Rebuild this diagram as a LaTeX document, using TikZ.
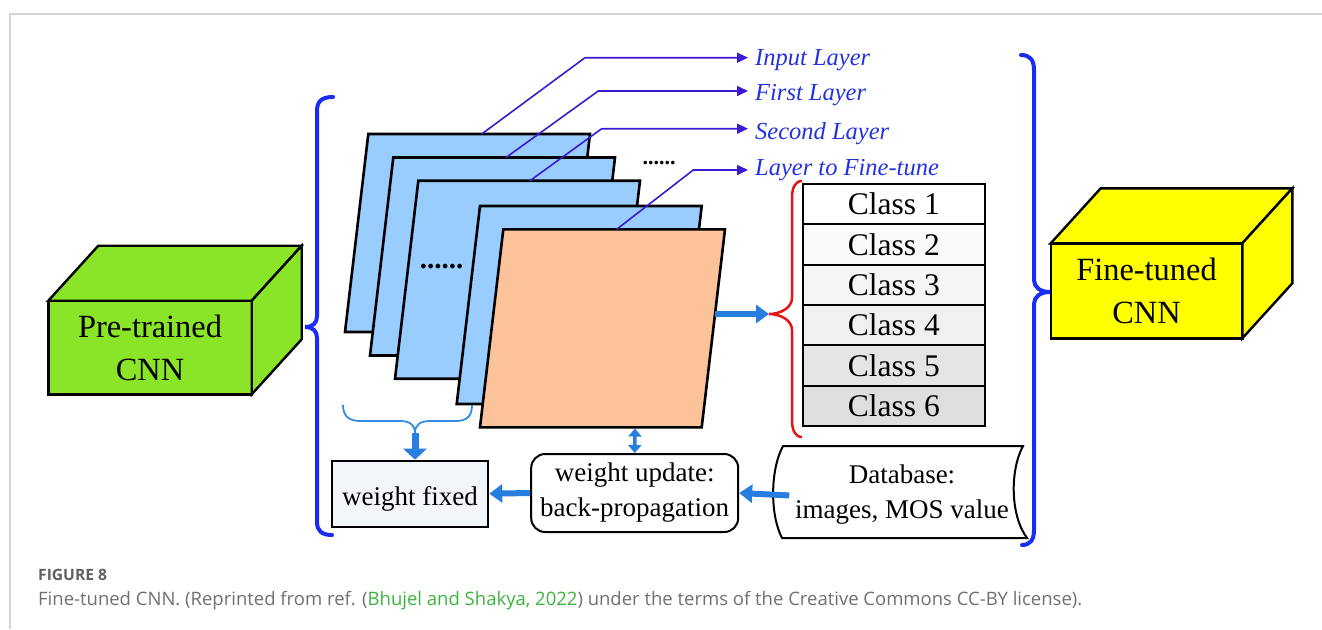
\documentclass[tikz,border=0pt]{standalone}
\usepackage{fontspec}
\setmainfont{Liberation Serif}
\newfontfamily\capfont{Open Sans}
\usetikzlibrary{arrows.meta}
\definecolor{limeg}{RGB}{138,228,40}
\definecolor{cubey}{RGB}{255,255,0}
\definecolor{sheetblue}{RGB}{153,204,255}
\definecolor{sheetorange}{RGB}{252,194,153}
\definecolor{bracebl}{RGB}{25,45,245}
\definecolor{lblline}{RGB}{60,25,210}
\definecolor{lbltext}{RGB}{35,50,225}
\definecolor{arrowbl}{RGB}{40,125,225}
\definecolor{smallbrace}{RGB}{50,140,230}
\definecolor{framegray}{RGB}{212,212,212}
\definecolor{capgray}{RGB}{112,112,112}
\definecolor{capdark}{RGB}{95,95,95}
\definecolor{capgreen}{RGB}{60,180,60}
\definecolor{fixedfill}{RGB}{242,245,250}
\definecolor{bracered}{RGB}{230,20,20}
\begin{document}
\begin{tikzpicture}[x=1pt,y=-1pt,line join=miter,
  sheet/.style={draw=black,line width=2.6pt},
  cubeface/.style={draw=black,line width=2.4pt},
  cubefront/.style={cubeface,outer sep=0pt,inner sep=0pt,align=center,font=\fontsize{32.4}{43}\selectfont},
  lblarrow/.style={draw=lblline,line width=1.6pt,-{Triangle[length=11pt,width=10pt]}},
  lbltxt/.style={anchor=base west,inner xsep=7pt,inner ysep=0pt,text=lbltext,font=\fontsize{24.5}{28}\selectfont\itshape},
  classrow/.style={draw=black,line width=2pt,minimum width=182.3pt,minimum height=40.3pt,inner sep=0pt,font=\fontsize{31.5}{36}\selectfont},
  thickarrow/.style={draw=arrowbl,line width=6pt,-{Triangle[length=13pt,width=18pt]}},
  bigbrace/.style={draw=bracebl,line width=4pt,line cap=round},
  boxtxt/.style={draw=black,line width=2pt,align=center,font=\fontsize{27}{35}\selectfont},
  dotstxt/.style={anchor=base,inner sep=0pt}
]
\useasboundingbox (0,0) rectangle (1322,629);
% frame
\draw[framegray,line width=2pt] (10,629) -- (10,14) -- (1322,14);

% pre-trained cube
\node[cubefront,fill=limeg,minimum width=203.4pt,minimum height=93.6pt] (pre) at (150,347.5) {Pre-trained\\CNN};
\draw[cubeface,fill=limeg] (pre.north west) -- ++(50,-55) -- ++(203.4,0) -- (pre.north east) -- cycle;
\draw[cubeface,fill=limeg] (pre.north east) -- ++(50,-55) -- ++(0,93.6) -- (pre.south east) -- cycle;

% fine-tuned cube
\node[cubefront,fill=cubey,minimum width=191.6pt,minimum height=95pt] (fin) at (1146.5,290.8) {Fine-tuned\\CNN};
\draw[cubeface,fill=cubey] (fin.north west) -- ++(50,-55) -- ++(191.6,0) -- (fin.north east) -- cycle;
\draw[cubeface,fill=cubey] (fin.north east) -- ++(50,-55) -- ++(0,95) -- (fin.south east) -- cycle;

% big braces
\draw[bigbrace] (333,97) .. controls (322,97) and (317,101) .. (317,111) -- (317,316) .. controls (317,323) and (313,327) .. (305,327) .. controls (313,327) and (317,331) .. (317,338) -- (317,522) .. controls (317,531) and (322,535) .. (332,535);
\draw[bigbrace] (1021,55) .. controls (1030,55) and (1034,60) .. (1034,70) -- (1034,280) .. controls (1034,287) and (1040,292) .. (1050,292) .. controls (1040,292) and (1034,297) .. (1034,304) -- (1034,530) .. controls (1034,540) and (1030,545) .. (1022,545);

% sheets
\draw[sheet,fill=sheetblue] (368.3,134) -- ++(221.7,0) -- ++(-23.3,198) -- ++(-221.7,0) -- cycle;
\draw[sheet,fill=sheetblue] (393.3,157.5) -- ++(221.7,0) -- ++(-23.3,198) -- ++(-221.7,0) -- cycle;
\draw[sheet,fill=sheetblue] (418.3,180.7) -- ++(221.7,0) -- ++(-23.3,198) -- ++(-221.7,0) -- cycle;
\draw[sheet,fill=sheetblue] (480,206) -- ++(221.7,0) -- ++(-23.3,198) -- ++(-221.7,0) -- cycle;
\draw[sheet,fill=sheetorange] (503.3,229.3) -- ++(221.7,0) -- ++(-23.3,198) -- ++(-221.7,0) -- cycle;
\node[dotstxt,font=\fontsize{29}{30}\selectfont\bfseries] (dotsA) at (441.5,268) {......};
\node[dotstxt,font=\fontsize{22}{24}\selectfont\bfseries] (dotsB) at (659,164) {......};

% label connectors
\coordinate (t1) at (481.7,134);
\coordinate (t2) at (506,157.5);
\coordinate (t3) at (530,180.7);
\coordinate (t4) at (616.7,229.3);
\coordinate (k1) at (585,57.7);
\coordinate (k2) at (598.3,91);
\coordinate (k3) at (601.7,128.7);
\coordinate (k4) at (693.3,170);
\node[lbltxt] (lin) at (748,65) {Input Layer};
\node[lbltxt] (lfirst) at (748,100.5) {First Layer};
\node[lbltxt] (lsec) at (748,139.5) {Second Layer};
\node[lbltxt] (ltune) at (748,175.5) {Layer to Fine-tune};
\draw[lblarrow] (t1) -- (k1) -- (k1 -| lin.west);
\draw[lblarrow] (t2) -- (k2) -- (k2 -| lfirst.west);
\draw[lblarrow] (t3) -- (k3) -- (k3 -| lsec.west);
\draw[lblarrow] (t4) -- (k4) -- (k4 -| ltune.west);

% classes
\node[classrow,fill=white] (c1) at (893.8,204.2) {Class 1};
\node[classrow,fill=white!98!black] (c2) at (893.8,244.5) {Class 2};
\node[classrow,fill=white!96!black] (c3) at (893.8,284.8) {Class 3};
\node[classrow,fill=white!94!black] (c4) at (893.8,325.2) {Class 4};
\node[classrow,fill=white!90!black] (c5) at (893.8,365.5) {Class 5};
\node[classrow,fill=white!87!black] (c6) at (893.8,405.8) {Class 6};
\draw[bracered,line width=2.5pt] (802,181) .. controls (795,181) and (792,188) .. (792,198) -- (792,298) .. controls (792,308) and (780,314) .. (769,314) .. controls (780,314) and (792,320) .. (792,330) -- (792,420) .. controls (792,430) and (795,437) .. (802,437);
\coordinate (oright) at (715,314);
\coordinate (rcusp) at (769,314);
\draw[thickarrow] (oright) -- (rcusp);

% bottom boxes
\node[boxtxt,rounded corners=14pt,fill=white,minimum width=207pt,minimum height=78pt] (wu) at (634.7,493) {weight update:\\back-propagation};
\node[boxtxt,fill=fixedfill,minimum width=156.6pt,minimum height=66pt,text height=28pt,text depth=4pt] (wf) at (410,493.7) {weight fixed};
\node[align=center,inner sep=0pt,minimum width=243pt,minimum height=92pt,font=\fontsize{27}{35}\selectfont] (db) at (902,495) {Database:\\images, MOS value};
\draw[black,line width=2pt] (783,446) -- (1023,446) .. controls (1010,470) and (1010,515) .. (1027,538) -- (782,538) .. controls (770,515) and (770,470) .. (783,446) -- cycle;

\coordinate (obot) at (635,428.5);
\draw[draw=arrowbl,line width=3.5pt,{Triangle[length=8pt,width=13pt]}-{Triangle[length=8pt,width=13pt]}] (obot) -- (wu.north);
\draw[thickarrow] (wu.west) -- (wf.east);
\draw[thickarrow,shorten <=-9pt] (db.west) -- (wu.east);

% small brace
\draw[smallbrace,line width=1.8pt] (343,405) .. controls (343,416) and (349,421) .. (360,421) -- (400,421) .. controls (410,421) and (415,425) .. (415,433) .. controls (415,425) and (420,421) .. (430,421) -- (456,421) .. controls (467,421) and (472,416) .. (472,405);
\coordinate (sbc) at (415,433);
\draw[draw=arrowbl,line width=7pt,-{Triangle[length=11pt,width=23pt]}] (sbc) -- (sbc |- wf.north);

% caption
\node[anchor=base west,inner sep=0pt,text=capdark,font=\capfont\bfseries\fontsize{15.6}{18}\selectfont] (fig) at (38,580) {FIGURE 8};
\node[anchor=base west,inner sep=0pt,text=capgray,font=\capfont\fontsize{18.5}{20}\selectfont] (cap) at (38,605) {Fine-tuned CNN. (Reprinted from ref. (\textcolor{capgreen}{Bhujel and Shakya, 2022}) under the terms of the Creative Commons CC-BY license).};
\end{tikzpicture}
\end{document}
